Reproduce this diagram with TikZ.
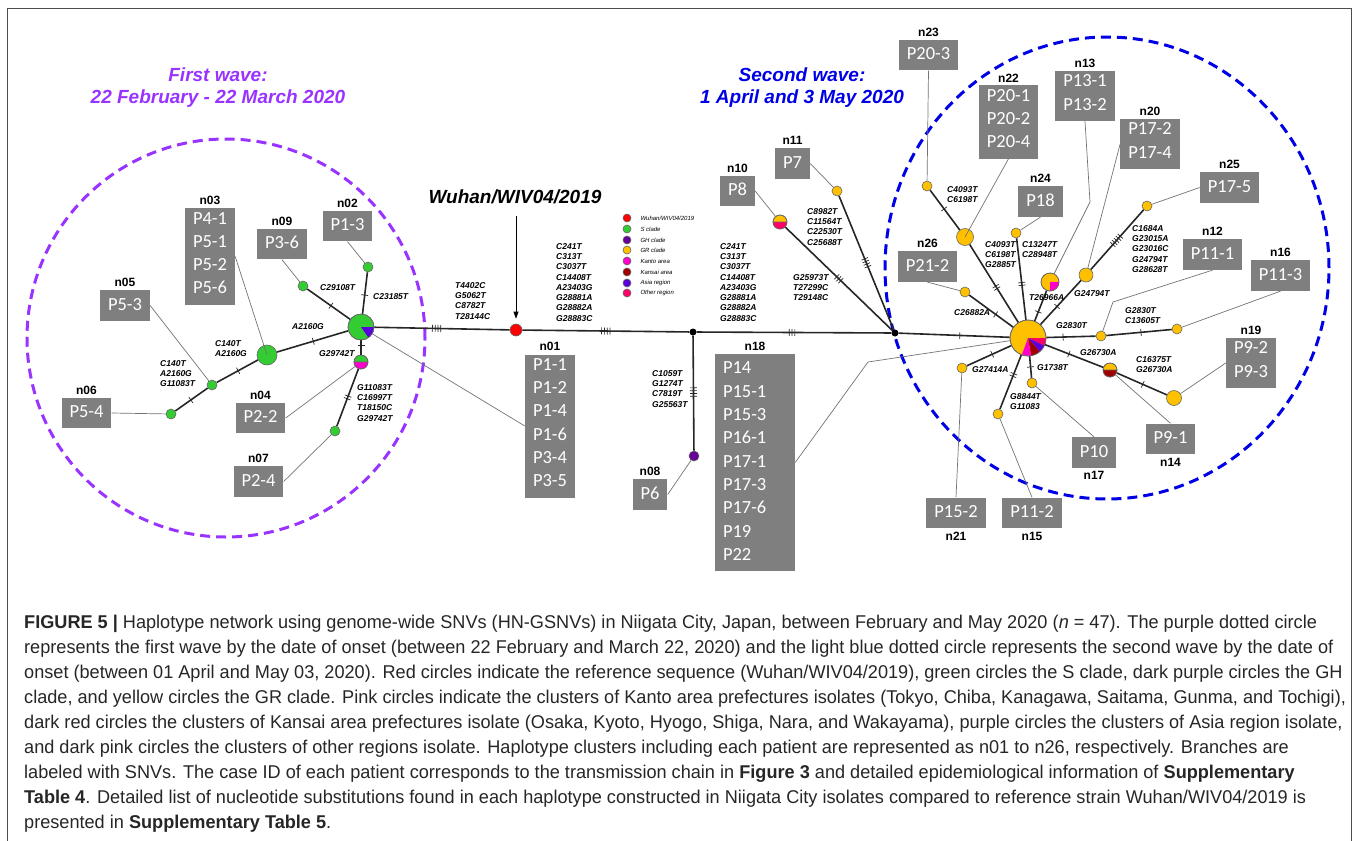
\documentclass[tikz,border=0pt]{standalone}
\usepackage{fontspec}
\setmainfont{Liberation Sans}
\newfontfamily\boxfont{Carlito}
\newfontfamily\capfont[FakeStretch=0.98]{Liberation Sans}
\usetikzlibrary{arrows.meta, calc, positioning, decorations.markings}

\definecolor{sclade}{RGB}{51,204,51}
\definecolor{grclade}{RGB}{255,192,0}
\definecolor{ghclade}{RGB}{102,0,153}
\definecolor{wuhanred}{RGB}{255,0,0}
\definecolor{kanto}{RGB}{255,0,204}
\definecolor{kansai}{RGB}{160,0,0}
\definecolor{asia}{RGB}{90,0,220}
\definecolor{otherreg}{RGB}{255,0,102}
\definecolor{boxgray}{RGB}{127,127,127}
\definecolor{wavepurple}{RGB}{153,51,255}
\definecolor{waveblue}{RGB}{0,0,230}

% slice of a pie-chart haplotype: node, radius, from, to, colour
\newcommand{\hapcut}[5]{\fill[#5] (#1.center) -- ++(#3:#2pt) arc[start angle=#3, end angle=#4, radius=#2pt] -- cycle;}

\begin{document}
\begin{tikzpicture}[x=1pt, y=-1pt,
  hap/.style={circle, draw=black!60, line width=0.6pt, inner sep=0pt, minimum size=#1},
  hapedge/.style={draw=black!60, line width=0.6pt},
  junction/.style={circle, fill=black, inner sep=0pt, minimum size=7pt},
  branch/.style={line width=1.6pt, black!85},
  leader/.style={line width=0.7pt, black!55},
  pbox/.style={fill=boxgray, text=white, inner xsep=8pt, inner ysep=3.8pt, align=center,
    font=\boxfont\fontsize{18.5}{23.3}\selectfont,
    execute at begin node=\strut, execute at end node=\strut},
  nlab/.style={font=\bfseries\fontsize{12}{14}\selectfont, inner sep=0pt},
  snvlab/.style={font=\bfseries\itshape\fontsize{8.5}{10.3}\selectfont, inner sep=0pt, align=left, anchor=north west},
  legtext/.style={font=\itshape\fontsize{6}{7}\selectfont, inner sep=0pt, anchor=west},
  wave1/.style={wavepurple, line width=3pt, dash pattern=on 10pt off 6pt},
  wave2/.style={waveblue, line width=3pt, dash pattern=on 10pt off 6pt},
  snv/.style 2 args={postaction={decorate, decoration={markings,
      mark=at position #1 with {
        \foreach \k in {1,...,#2}{
          \draw[line width=0.7pt] ({(\k-(#2+1)/2)*2.8pt},-3.5pt) -- ++(0,7pt);
        }}}}},
]
\useasboundingbox (0,0) rectangle (1358,841);
\draw[black!70, line width=0.8pt] (7,841) -- (7,8) -- (1351,8) -- (1351,841);

% waves
\draw[wave1] (226,338) circle[radius=199pt];
\draw[wave2] (1107,268) ellipse[x radius=222pt, y radius=231pt];
\node[wavepurple, align=center, font=\bfseries\itshape\fontsize{19}{22}\selectfont] (title1) at (218,88)
  {First wave:\\22 February - 22 March 2020};
\node[waveblue, align=center, font=\bfseries\itshape\fontsize{19}{22}\selectfont] (title2) at (802,88)
  {Second wave:\\1 April and 3 May 2020};

% haplotypes
\node[hap=26pt, fill=sclade] (n01) at (361,327) {};
\node[hap=10pt, fill=sclade] (n02) at (368,267) {};
\node[hap=20pt, fill=sclade] (n03) at (267,355) {};
\node[hap=14pt, fill=sclade] (n04) at (361,362) {};
\node[hap=10pt, fill=sclade] (n05) at (212,385) {};
\node[hap=10pt, fill=sclade] (n06) at (171,414) {};
\node[hap=10pt, fill=sclade] (n07) at (335,431) {};
\node[hap=10pt, fill=ghclade] (n08) at (694,456) {};
\node[hap=10pt, fill=sclade] (n09) at (303,286) {};
\node[hap=14pt, fill=grclade] (n10) at (780,222) {};
\node[hap=10pt, fill=grclade] (n11) at (837,191) {};
\node[hap=10pt, fill=grclade] (n12) at (1101,336) {};
\node[hap=18pt, fill=grclade] (n13) at (1050,282) {};
\node[hap=14pt, fill=grclade] (n14) at (1110,370) {};
\node[hap=10pt, fill=grclade] (n15) at (998,414) {};
\node[hap=10pt, fill=grclade] (n16) at (1177,329) {};
\node[hap=10pt, fill=grclade] (n17) at (1032,383) {};
\node[hap=36pt, fill=grclade] (n18) at (1028,338) {};
\node[hap=15pt, fill=grclade] (n19) at (1174,398) {};
\node[hap=14pt, fill=grclade] (n20) at (1086,275) {};
\node[hap=10pt, fill=grclade] (n21) at (962,368) {};
\node[hap=17pt, fill=grclade] (n22) at (965,237) {};
\node[hap=10pt, fill=grclade] (n23) at (927,186) {};
\node[hap=10pt, fill=grclade] (n24) at (1016,233) {};
\node[hap=10pt, fill=grclade] (n25) at (1147,206) {};
\node[hap=10pt, fill=grclade] (n26) at (965,292) {};
\node[hap=12pt, fill=wuhanred] (wuhan) at (516,330) {};
\node[junction] (j1) at (693,332) {};
\node[junction] (j2) at (895,333) {};

% backbone
\draw[branch, snv={0.46}{4}] (n01) -- (wuhan);
\draw[branch, snv={0.5}{4}] (wuhan) -- (j1);
\draw[branch, snv={0.49}{3}] (j1) -- (j2);
\draw[branch, snv={0.55}{1}] (j2) -- (n18);
\draw[branch, snv={0.49}{4}] (j1) -- (n08);
\draw[branch, snv={0.5}{3}] (j2) -- (n10);
\draw[branch, snv={0.5}{4}] (j2) -- (n11);
% first wave branches
\draw[branch, snv={0.45}{1}] (n01) -- (n02);
\draw[branch, snv={0.45}{1}] (n01) -- (n09);
\draw[branch, snv={0.49}{1}] (n01) -- (n03);
\draw[branch, snv={0.48}{1}] (n03) -- (n05);
\draw[branch, snv={0.52}{1}] (n05) -- (n06);
\draw[branch, snv={0.35}{1}] (n01) -- (n04);
\draw[branch, snv={0.5}{2}] (n04) -- (n07);
% second wave branches
\draw[branch, snv={0.45}{2}] (n18) -- (n22);
\draw[branch, snv={0.53}{1}] (n22) -- (n23);
\draw[branch, snv={0.44}{2}] (n18) -- (n24);
\draw[branch, snv={0.3}{1}] (n18) -- (n13);
\draw[branch, snv={0.41}{1}] (n18) -- (n20);
\draw[branch, snv={0.49}{5}] (n20) -- (n25);
\draw[branch, snv={0.34}{1}] (n18) -- (n12);
\draw[branch, snv={0.53}{1}] (n12) -- (n16);
\draw[branch, snv={0.41}{1}] (n18) -- (n14);
\draw[branch, snv={0.52}{1}] (n14) -- (n19);
\draw[branch, snv={0.5}{1}] (n18) -- (n17);
\draw[branch, snv={0.37}{2}] (n18) -- (n15);
\draw[branch, snv={0.43}{1}] (n18) -- (n21);
\draw[branch, snv={0.4}{1}] (n18) -- (n26);

% pie slices
\hapcut{n01}{13}{-55}{0}{asia}
\draw[hapedge] (n01.center) circle[radius=13pt];
\hapcut{n04}{7}{180}{360}{kanto}
\draw[hapedge] (n04.center) circle[radius=7pt] (n04.west) -- (n04.east);
\hapcut{n10}{7}{180}{360}{otherreg}
\draw[hapedge] (n10.center) circle[radius=7pt] (n10.west) -- (n10.east);
\hapcut{n14}{7}{180}{360}{kansai}
\draw[hapedge] (n14.center) circle[radius=7pt] (n14.west) -- (n14.east);
\hapcut{n13}{9}{-90}{0}{kanto}
\draw[hapedge] (n13.center) circle[radius=9pt];
\hapcut{n18}{18}{-25}{0}{otherreg}
\hapcut{n18}{18}{-50}{-25}{asia}
\hapcut{n18}{18}{-80}{-50}{kansai}
\hapcut{n18}{18}{-110}{-80}{kanto}
\draw[hapedge] (n18.center) circle[radius=18pt];

% reference strain
\node[font=\bfseries\itshape\fontsize{19}{22}\selectfont, inner sep=0pt] (wlab) at (515,197) {Wuhan/WIV04/2019};
\coordinate (wtop) at (516,216);
\draw[line width=0.7pt, -{Triangle[length=7pt, width=5pt]}, shorten >=5pt] (wtop) -- (wuhan);

% legend
\node[hap=8pt, fill=wuhanred] (lg1) at (627,218) {};
\node[hap=8pt, fill=sclade] (lg2) at (627,229) {};
\node[hap=8pt, fill=ghclade] (lg3) at (627,240) {};
\node[hap=8pt, fill=grclade] (lg4) at (627,250) {};
\node[hap=8pt, fill=kanto] (lg5) at (627,261) {};
\node[hap=8pt, fill=kansai] (lg6) at (627,272) {};
\node[hap=8pt, fill=asia] (lg7) at (627,283) {};
\node[hap=8pt, fill=otherreg] (lg8) at (627,293) {};
\node[legtext, right=9pt of lg1] {Wuhan/WIV04/2019};
\node[legtext, right=9pt of lg2] {S clade};
\node[legtext, right=9pt of lg3] {GH clade};
\node[legtext, right=9pt of lg4] {GR clade};
\node[legtext, right=9pt of lg5] {Kanto area};
\node[legtext, right=9pt of lg6] {Kansai area};
\node[legtext, right=9pt of lg7] {Asia region};
\node[legtext, right=9pt of lg8] {Other region};

% SNV labels
\node[snvlab] at (320,284) {C29108T};
\node[snvlab] at (373,293) {C23185T};
\node[snvlab] at (292,323) {A2160G};
\node[snvlab] at (215,340) {C140T\\A2160G};
\node[snvlab] at (160,360) {C140T\\A2160G\\G11083T};
\node[snvlab] at (319,350) {G29742T};
\node[snvlab] at (357,384) {G11083T\\C16997T\\T18150C\\G29742T};
\node[snvlab] at (455,282) {T4402C\\G5062T\\C8782T\\T28144C};
\node[snvlab] at (556,243) {C241T\\C313T\\C3037T\\C14408T\\A23403G\\G28881A\\G28882A\\G28883C};
\node[snvlab] at (720,243) {C241T\\C313T\\C3037T\\C14408T\\A23403G\\G28881A\\G28882A\\G28883C};
\node[snvlab] at (652,370) {C1059T\\G1274T\\C7819T\\G25563T};
\node[snvlab] at (793,274) {G25973T\\T27299C\\T29148C};
\node[snvlab] at (807,208) {C8982T\\C11564T\\C22530T\\C25688T};
\node[snvlab] at (947,186) {C4093T\\C6198T};
\node[snvlab] at (985,241) {C4093T\\C6198T\\G2885T};
\node[snvlab] at (1022,241) {C13247T\\C28948T};
\node[snvlab] at (1029,294) {T26966A};
\node[snvlab] at (1074,290) {G24794T};
\node[snvlab] at (1132,225) {C1684A\\G23015A\\G23016C\\G24794T\\G28628T};
\node[snvlab] at (1056,322) {G2830T};
\node[snvlab] at (1125,307) {G2830T\\C13605T};
\node[snvlab] at (1080,349) {G26730A};
\node[snvlab] at (1136,356) {C16375T\\G26730A};
\node[snvlab] at (1037,364) {G1738T};
\node[snvlab] at (1010,393) {G8844T\\G11083};
\node[snvlab] at (972,366) {G27414A};
\node[snvlab] at (954,309) {C26882A};

% patient boxes
\node[pbox] (b01) at (550,426) {P1-1\\P1-2\\P1-4\\P1-6\\P3-4\\P3-5};
\node[pbox] (b02) at (347.5,226) {P1-3};
\node[pbox] (b03) at (210,256.5) {P4-1\\P5-1\\P5-2\\P5-6};
\node[pbox] (b04) at (260.5,418) {P2-2};
\node[pbox] (b05) at (125,305.5) {P5-3};
\node[pbox] (b06) at (86.5,413) {P5-4};
\node[pbox] (b07) at (258.5,481.5) {P2-4};
\node[pbox] (b08) at (650,494.5) {P6};
\node[pbox] (b09) at (282,244) {P3-6};
\node[pbox] (b10) at (737.5,191) {P8};
\node[pbox] (b11) at (792.5,163.5) {P7};
\node[pbox] (b12) at (1212.5,254.5) {P11-1};
\node[pbox] (b13) at (1085,96) {P13-1\\P13-2};
\node[pbox] (b14) at (1170.5,439) {P9-1};
\node[pbox] (b15) at (1032,513) {P11-2};
\node[pbox] (b16) at (1280.5,275.5) {P11-3};
\node[pbox] (b17) at (1094,452.5) {P10};
\node[pbox, align=left, text width=64pt] (b18) at (755,462.5) {P14\\P15-1\\P15-3\\P16-1\\P17-1\\P17-3\\P17-6\\P19\\P22};
\node[pbox] (b19) at (1251,363) {P9-2\\P9-3};
\node[pbox] (b20) at (1150,144) {P17-2\\P17-4};
\node[pbox] (b21) at (956,513) {P15-2};
\node[pbox] (b22) at (1008.5,122) {P20-1\\P20-2\\P20-4};
\node[pbox] (b23) at (928.5,55) {P20-3};
\node[pbox] (b24) at (1040.5,201.5) {P18};
\node[pbox] (b25) at (1229.5,187.5) {P17-5};
\node[pbox] (b26) at (927.5,266.5) {P21-2};

% haplotype names
\node[nlab, above=3pt of b01] {n01};
\node[nlab, above=3pt of b02] {n02};
\node[nlab, above=3pt of b03] {n03};
\node[nlab, above=3pt of b04] {n04};
\node[nlab, above=3pt of b05] {n05};
\node[nlab, above=3pt of b06] {n06};
\node[nlab, above=3pt of b07] {n07};
\node[nlab, above=3pt of b08] {n08};
\node[nlab, above=3pt of b09] {n09};
\node[nlab, above=3pt of b10] {n10};
\node[nlab, above=3pt of b11] {n11};
\node[nlab, above=3pt of b12] {n12};
\node[nlab, above=3pt of b13] {n13};
\node[nlab, below=3pt of b14] {n14};
\node[nlab, below=3pt of b15] {n15};
\node[nlab, above=3pt of b16] {n16};
\node[nlab, below=3pt of b17] {n17};
\node[nlab, above=3pt of b18] {n18};
\node[nlab, above=3pt of b19] {n19};
\node[nlab, above=3pt of b20] {n20};
\node[nlab, below=3pt of b21] {n21};
\node[nlab, above=3pt of b22] {n22};
\node[nlab, above=3pt of b23] {n23};
\node[nlab, above=3pt of b24] {n24};
\node[nlab, above=3pt of b25] {n25};
\node[nlab, above=3pt of b26] {n26};

% leaders
\coordinate (k18) at (868,362);
\coordinate (k13) at (1090,202);
\coordinate (k12) at (1113,302);
\draw[leader] (b01.west) -- (n01);
\draw[leader] (b02.south) -- (n02);
\draw[leader] (b03.east) -- (n03.center);
\draw[leader] (b04.east) -- (n04);
\draw[leader] (b05.east) -- (n05);
\draw[leader] (b06.east) -- (n06);
\draw[leader] (b07.east) -- (n07);
\draw[leader] (b08.east) -- (n08);
\draw[leader] (b09.south) -- (n09);
\draw[leader] (b10.east) -- (n10);
\draw[leader] (b11.east) -- (n11);
\draw[leader] (b12.south) -- (k12) -- (n12);
\draw[leader] (b13.south) -- (k13) -- (n13);
\draw[leader] (b14.north) -- (n14);
\draw[leader] (b15.north) -- (n15);
\draw[leader] (b16.south) -- (n16);
\draw[leader] (b17.north) -- (n17);
\draw[leader] (b18.east) -- (k18) -- (n18);
\draw[leader] (b19.west) -- (n19);
\draw[leader] (b20.west) -- (n20);
\draw[leader] (b21.north) -- (n21);
\draw[leader] (b22.south) -- (n22.center);
\draw[leader] (b23.south) -- (n23);
\draw[leader] (b24.south) -- (n24);
\draw[leader] (b25.west) -- (n25);
\draw[leader] (b26.south) -- (n26);

% caption
\node[anchor=north west, inner sep=0pt, align=left, text=black!85,
  font=\capfont\fontsize{18.5}{25}\selectfont] (caption) at (24,615)
{\textbf{FIGURE 5 |} Haplotype network using genome-wide SNVs (HN-GSNVs) in Niigata City, Japan, between February and May 2020 (\textit{n} = 47). The purple dotted circle\\
represents the first wave by the date of onset (between 22 February and March 22, 2020) and the light blue dotted circle represents the second wave by the date of\\
onset (between 01 April and May 03, 2020). Red circles indicate the reference sequence (Wuhan/WIV04/2019), green circles the S clade, dark purple circles the GH\\
clade, and yellow circles the GR clade. Pink circles indicate the clusters of Kanto area prefectures isolates (Tokyo, Chiba, Kanagawa, Saitama, Gunma, and Tochigi),\\
dark red circles the clusters of Kansai area prefectures isolate (Osaka, Kyoto, Hyogo, Shiga, Nara, and Wakayama), purple circles the clusters of Asia region isolate,\\
and dark pink circles the clusters of other regions isolate. Haplotype clusters including each patient are represented as n01 to n26, respectively. Branches are\\
labeled with SNVs. The case ID of each patient corresponds to the transmission chain in \textbf{Figure 3} and detailed epidemiological information of \textbf{Supplementary}\\
\textbf{Table 4}. Detailed list of nucleotide substitutions found in each haplotype constructed in Niigata City isolates compared to reference strain Wuhan/WIV04/2019 is\\
presented in \textbf{Supplementary Table 5}.};
\end{tikzpicture}
\end{document}
